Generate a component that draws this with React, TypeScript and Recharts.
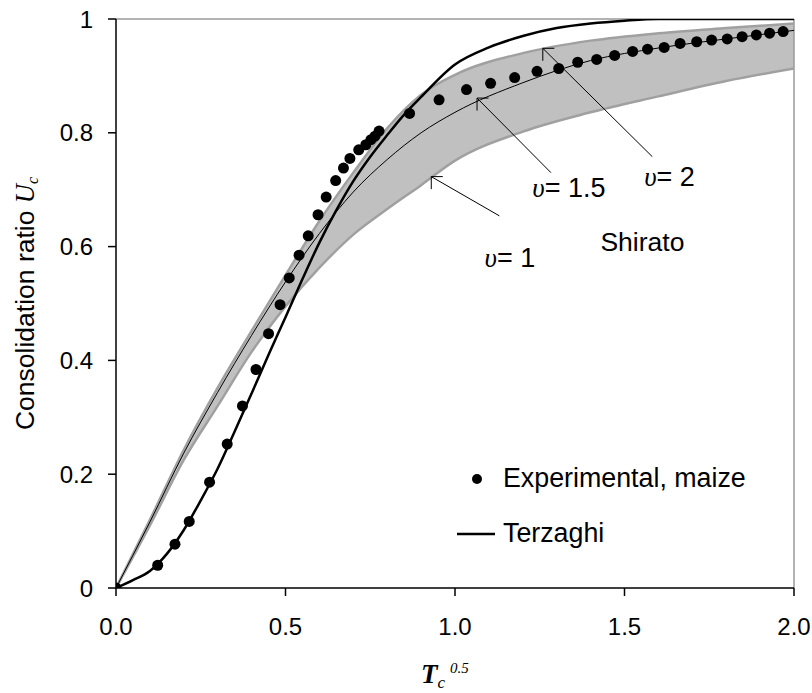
import {
  Area,
  ComposedChart,
  Label,
  Line,
  ReferenceDot,
  ReferenceLine,
  Scatter,
  XAxis,
  YAxis,
} from "recharts";

// Shirato solutions on a shared T^0.5 grid
const bandT = [0, 0.1, 0.2, 0.3, 0.4, 0.5, 0.6, 0.7, 0.8, 0.9, 1.0, 1.2, 1.4, 1.6, 1.8, 2.0];
const shiratoV1 = [0, 0.11, 0.225, 0.32, 0.415, 0.495, 0.563, 0.621, 0.666, 0.708, 0.751, 0.802, 0.836, 0.864, 0.891, 0.913];
const shiratoV15 = [0, 0.116, 0.237, 0.344, 0.444, 0.538, 0.623, 0.696, 0.753, 0.8, 0.836, 0.888, 0.927, 0.949, 0.965, 0.98];
const shiratoV2 = [0, 0.12, 0.243, 0.352, 0.452, 0.55, 0.645, 0.73, 0.808, 0.867, 0.902, 0.94, 0.962, 0.975, 0.984, 0.992];

// Terzaghi solution
const terzT = [0, 0.05, 0.1, 0.15, 0.2, 0.25, 0.3, 0.35, 0.4, 0.45, 0.5, 0.55, 0.6, 0.65, 0.7, 0.75, 0.8, 0.85, 0.9, 1.0, 1.1, 1.2, 1.3, 1.4, 1.5, 1.6, 1.8, 2.0];
const terzU = [0, 0.014, 0.03, 0.06, 0.102, 0.154, 0.21, 0.275, 0.342, 0.41, 0.476, 0.543, 0.607, 0.664, 0.715, 0.758, 0.796, 0.832, 0.863, 0.92, 0.95, 0.97, 0.984, 0.992, 0.997, 1.0, 1.0, 1.0];

// Experimental, maize
const expT = [0, 0.123, 0.174, 0.216, 0.276, 0.328, 0.373, 0.413, 0.45, 0.484, 0.511, 0.54, 0.567, 0.596, 0.62, 0.648, 0.671, 0.69, 0.716, 0.737, 0.752, 0.764, 0.776, 0.866, 0.953, 1.034, 1.105, 1.176, 1.242, 1.306, 1.362, 1.418, 1.471, 1.524, 1.568, 1.617, 1.664, 1.713, 1.757, 1.803, 1.847, 1.889, 1.928, 1.968];
const expU = [0, 0.04, 0.077, 0.117, 0.186, 0.253, 0.32, 0.384, 0.447, 0.498, 0.545, 0.585, 0.619, 0.656, 0.687, 0.716, 0.738, 0.755, 0.77, 0.779, 0.788, 0.794, 0.803, 0.834, 0.858, 0.876, 0.887, 0.897, 0.908, 0.913, 0.924, 0.929, 0.936, 0.943, 0.947, 0.95, 0.957, 0.96, 0.963, 0.965, 0.969, 0.972, 0.975, 0.978];

const xTicks = [0, 0.5, 1, 1.5, 2];
const yTicks = [0, 0.2, 0.4, 0.6, 0.8, 1];

const bandRows = bandT.map((t, i) => ({
  t,
  v1: shiratoV1[i],
  v15: shiratoV15[i],
  v2: shiratoV2[i],
  band: [shiratoV1[i], shiratoV2[i]],
}));
const terzRows = terzT.map((t, i) => ({ t, u: terzU[i] }));
const expRows = expT.map((t, i) => ({ t, u: expU[i] }));

// arrow callouts: label anchor, arrow tail and tip (data units)
const callouts = [
  { v: "2", label: [1.558, 0.706], tail: [1.582, 0.758], tip: [1.259, 0.9485] },
  { v: "1.5", label: [1.228, 0.687], tail: [1.283, 0.73], tip: [1.065, 0.861] },
  { v: "1", label: [1.087, 0.564], tail: [1.131, 0.654], tip: [0.93, 0.723] },
];

const SANS = "'Liberation Sans', Arial, sans-serif";
const SERIF = "'Liberation Serif', 'Times New Roman', serif";

const YLabel = ({ viewBox }: any) => {
  const cx = viewBox.x + 34;
  const cy = viewBox.y + viewBox.height / 2;
  return (
    <text
      x={cx}
      y={cy}
      transform={`rotate(-90 ${cx} ${cy})`}
      textAnchor="middle"
      fontFamily={SANS}
      fontSize={26.5}
      fill="#000"
    >
      Consolidation ratio{" "}
      <tspan fontFamily={SERIF} fontStyle="italic">U</tspan>
      <tspan fontFamily={SERIF} fontStyle="italic" fontSize={16} dy={4}>c</tspan>
    </text>
  );
};

const XLabel = ({ viewBox }: any) => {
  const x = viewBox.x + viewBox.width / 2 - 34;
  const y = viewBox.y + 95;
  return (
    <text x={x} y={y} fontFamily={SERIF} fill="#000">
      <tspan fontSize={27} fontWeight="bold" fontStyle="italic">T</tspan>
      <tspan fontSize={17} fontStyle="italic" dy={5}>c</tspan>
      <tspan fontSize={15} fontStyle="italic" dx={5} dy={-15}>0.5</tspan>
    </text>
  );
};

// legend drawn over the plot, lower right
const LegendBox = () => (
  <svg
    width={330}
    height={110}
    style={{ position: "absolute", left: 450, top: 450, pointerEvents: "none" }}
  >
    <circle cx={27} cy={29} r={5} fill="#000" />
    <text x={53} y={37} fontFamily={SANS} fontSize={26.8} fill="#000">
      Experimental, maize
    </text>
    <line x1={7} x2={45} y1={84} y2={84} stroke="#000" strokeWidth={2.5} />
    <text x={53} y={92} fontFamily={SANS} fontSize={26.8} fill="#000">
      Terzaghi
    </text>
  </svg>
);

const Dot = (p: any) => <circle cx={p.cx} cy={p.cy} r={5.5} fill="#000" />;

const calloutText = (v: string) => (p: any) => (
  <text x={p.cx} y={p.cy} fontFamily={SANS} fontSize={27} fill="#000">
    <tspan fontFamily={SERIF} fontStyle="italic">υ</tspan>
    {"= " + v}
  </text>
);

const shiratoText = (p: any) => (
  <text x={p.cx} y={p.cy} fontFamily={SANS} fontSize={26.5} fill="#000">
    Shirato
  </text>
);

export default function App() {
  const tick = { fontSize: 24, fill: "#000", fontFamily: SANS };
  return (
    <div style={{ position: "absolute", left: 0, top: 0, width: 812, height: 693, background: "#fff" }}>
      <ComposedChart
        width={812}
        height={693}
        data={bandRows}
        margin={{ top: 19, right: 18, bottom: 0, left: 0 }}
      >
        <XAxis
          dataKey="t"
          type="number"
          domain={[0, 2]}
          ticks={xTicks}
          tickFormatter={(v: number) => v.toFixed(1)}
          height={105}
          tickSize={8}
          tickMargin={22}
          tick={tick}
          axisLine={{ stroke: "#000", strokeWidth: 1.5 }}
          tickLine={{ stroke: "#000", strokeWidth: 1.5 }}
          allowDataOverflow
        >
          <Label content={XLabel} />
        </XAxis>
        <YAxis
          type="number"
          domain={[0, 1]}
          ticks={yTicks}
          tickFormatter={(v: number) => String(v)}
          width={116}
          tickSize={8}
          tickMargin={15}
          tick={tick}
          axisLine={{ stroke: "#000", strokeWidth: 1.5 }}
          tickLine={{ stroke: "#000", strokeWidth: 1.5 }}
          allowDataOverflow
        >
          <Label content={YLabel} />
        </YAxis>

        <ReferenceLine y={1} stroke="#9a9a9a" strokeWidth={1.5} />
        <ReferenceLine x={2} stroke="#9a9a9a" strokeWidth={1.5} />

        <Area
          type="monotone"
          dataKey="band"
          fill="#c0c0c0"
          fillOpacity={1}
          stroke="none"
          isAnimationActive={false}
        />
        <Line type="monotone" dataKey="v1" stroke="#a0a0a0" strokeWidth={2.5} dot={false} isAnimationActive={false} />
        <Line type="monotone" dataKey="v2" stroke="#a0a0a0" strokeWidth={2.5} dot={false} isAnimationActive={false} />
        <Line type="monotone" dataKey="v15" stroke="#000" strokeWidth={1} dot={false} isAnimationActive={false} />
        <Line
          data={terzRows}
          type="monotone"
          dataKey="u"
          stroke="#000"
          strokeWidth={2.5}
          dot={false}
          isAnimationActive={false}
        />
        <Scatter data={expRows} dataKey="u" shape={Dot} isAnimationActive={false} />

        {callouts.map((c) => [
          <ReferenceLine
            key={c.v + "a"}
            segment={[{ x: c.tail[0], y: c.tail[1] }, { x: c.tip[0], y: c.tip[1] }]}
            stroke="#000"
            strokeWidth={1}
          />,
          <ReferenceLine
            key={c.v + "h"}
            segment={[{ x: c.tip[0], y: c.tip[1] }, { x: c.tip[0] + 0.034, y: c.tip[1] }]}
            stroke="#000"
            strokeWidth={1}
          />,
          <ReferenceLine
            key={c.v + "v"}
            segment={[{ x: c.tip[0], y: c.tip[1] }, { x: c.tip[0], y: c.tip[1] - 0.022 }]}
            stroke="#000"
            strokeWidth={1}
          />,
          <ReferenceDot key={c.v + "t"} x={c.label[0]} y={c.label[1]} r={0} shape={calloutText(c.v)} />,
        ])}
        <ReferenceDot x={1.429} y={0.592} r={0} shape={shiratoText} />
      </ComposedChart>
      <LegendBox />
    </div>
  );
}
